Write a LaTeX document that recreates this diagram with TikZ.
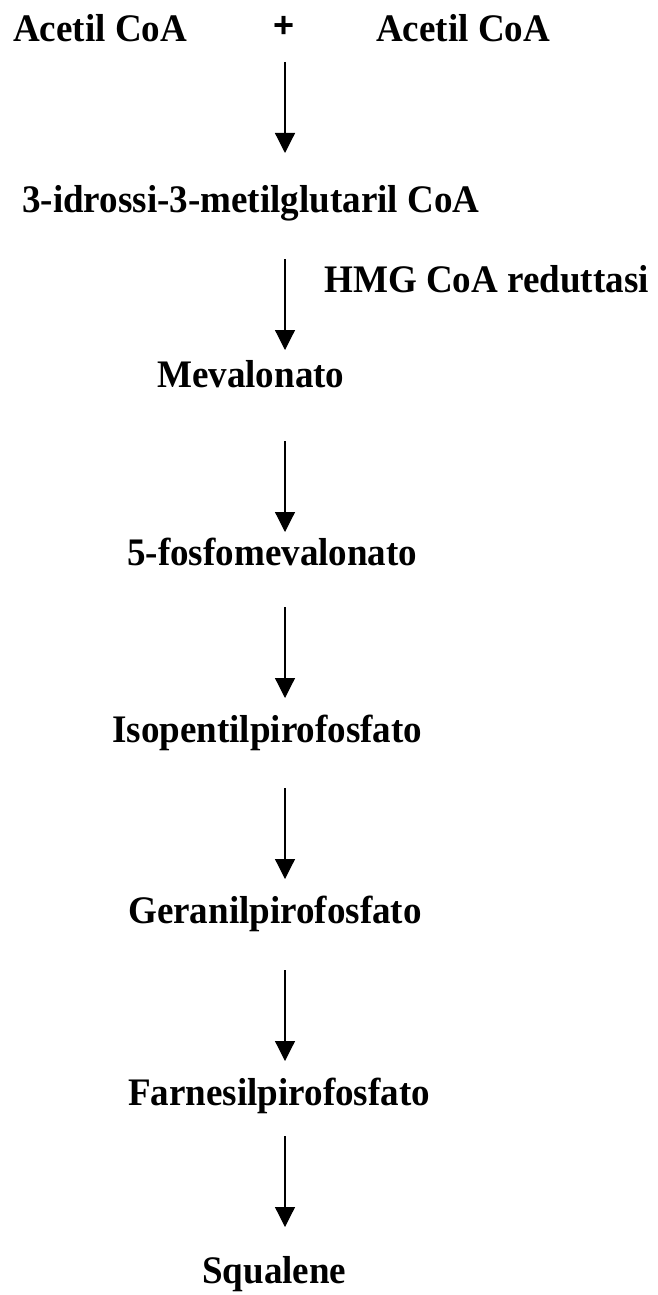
\documentclass[tikz,border=0pt]{standalone}
\usepackage{fontspec}
\setmainfont{Liberation Serif}[FakeStretch=0.95]
\newfontfamily\plusfont{Liberation Sans}
\usetikzlibrary{arrows.meta}
\begin{document}
\begin{tikzpicture}[x=1pt,y=1pt,
  lbl/.style={inner sep=0pt,anchor=base west,font=\fontsize{39}{46}\selectfont\bfseries},
  arr/.style={line width=1.2pt,-{Triangle[length=20pt,width=20pt]}}]
\useasboundingbox (0,0) rectangle (657,-1295);
\node[lbl] (acL) at (13,-42) {Acetil CoA};
\node[inner sep=0pt,font=\fontsize{36}{43}\plusfont\bfseries] (plus) at (284,-27) {+};
\node[lbl] (acR) at (376,-42) {Acetil CoA};
\node[lbl] (hmgcoa) at (22,-212) {3-idrossi-3-metilglutaril CoA};
\node[lbl] (enz) at (324,-292) {HMG CoA reduttasi};
\node[lbl] (mev) at (157,-387) {Mevalonato};
\node[lbl] (fmev) at (127,-565) {5-fosfomevalonato};
\node[lbl] (ipp) at (112,-742) {Isopentilpirofosfato};
\node[lbl] (gpp) at (128,-923) {Geranilpirofosfato};
\node[lbl] (fpp) at (128,-1105) {Farnesilpirofosfato};
\node[lbl] (sq) at (202,-1283) {Squalene};
\coordinate (a1s) at (285,-62);   \coordinate (a1e) at (285,-153);
\coordinate (a2s) at (285,-259);  \coordinate (a2e) at (285,-350);
\coordinate (a3s) at (285,-441);  \coordinate (a3e) at (285,-532);
\coordinate (a4s) at (285,-607);  \coordinate (a4e) at (285,-698);
\coordinate (a5s) at (285,-788);  \coordinate (a5e) at (285,-879);
\coordinate (a6s) at (285,-970);  \coordinate (a6e) at (285,-1061);
\coordinate (a7s) at (285,-1136); \coordinate (a7e) at (285,-1227);
\foreach \i in {1,...,7} \draw[arr] (a\i s) -- (a\i e);
\end{tikzpicture}
\end{document}
